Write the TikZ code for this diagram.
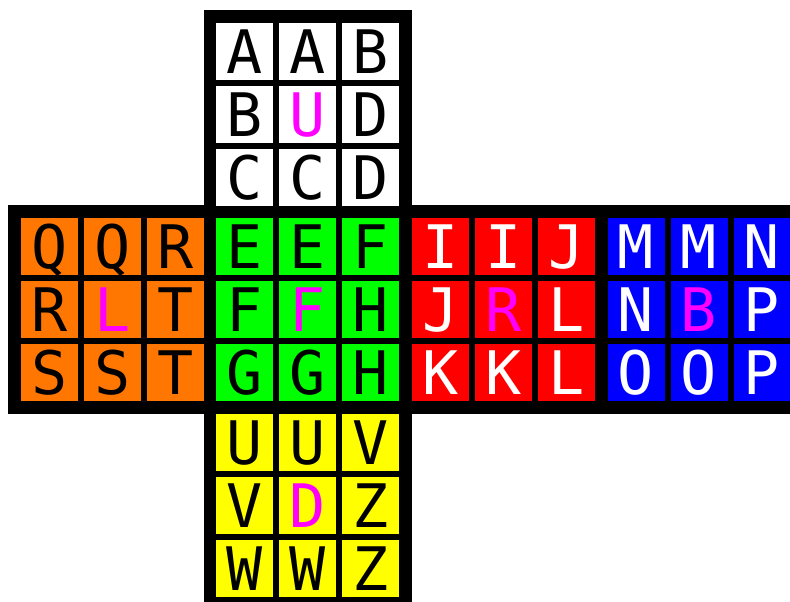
\documentclass[tikz,border=0pt]{standalone}
\usepackage{fontspec}
\setmonofont{DejaVu Sans Mono}
\usepackage{xcolor}
\usepackage{tikz}
\definecolor{cubeorange}{RGB}{255,119,0}
\definecolor{cubegreen}{RGB}{0,255,0}
\definecolor{cubered}{RGB}{255,0,0}
\definecolor{cubeblue}{RGB}{0,0,255}
\definecolor{cubeyellow}{RGB}{255,255,0}
\definecolor{cubecentre}{RGB}{255,0,255}
\tikzset{
    sticker/.style={
        minimum size=57pt,
        inner sep=0pt,
        text height=43.5pt,
        text depth=0pt,
        font=\ttfamily\fontsize{60}{60}\selectfont
    },
    upface/.style={sticker, fill=white, text=black},
    leftface/.style={sticker, fill=cubeorange, text=black},
    frontface/.style={sticker, fill=cubegreen, text=black},
    rightface/.style={sticker, fill=cubered, text=white},
    backface/.style={sticker, fill=cubeblue, text=white},
    downface/.style={sticker, fill=cubeyellow, text=black}
}
\newcommand{\ctr}[1]{\textcolor{cubecentre}{#1}}
% #1 name, #2 #3 top left corner, #4 style, #5 the nine letters
\newcommand{\cubeface}[5]{%
    \foreach \t [count=\k] in {#5}
        \node[#4] (#1\k) at ({#2+28.5+63*mod(\k-1,3)},{#3+28.5+63*floor((\k-1)/3)}) {\t};
}

\begin{document}
\begin{tikzpicture}[x=1pt, y=-1pt]
        \useasboundingbox (0,0) rectangle (790,602);
        \clip (0,0) rectangle (790,602);
        % black frame of the net
        \fill[black] (204,10) rectangle (412,610);
        \fill[black] (8,205) rectangle (800,414);
        \cubeface{u}{216}{23}{upface}{A,A,B,B,\ctr{U},D,C,C,D}
        \cubeface{l}{21}{218}{leftface}{Q,Q,R,R,\ctr{L},T,S,S,T}
        \cubeface{f}{216}{218}{frontface}{E,E,F,F,\ctr{F},H,G,G,H}
        \cubeface{r}{412}{218}{rightface}{I,I,J,J,\ctr{R},L,K,K,L}
        \cubeface{b}{607.5}{218}{backface}{M,M,N,N,\ctr{B},P,O,O,P}
        \cubeface{d}{216}{414}{downface}{U,U,V,V,\ctr{D},Z,W,W,Z}
    \end{tikzpicture}
\end{document}
